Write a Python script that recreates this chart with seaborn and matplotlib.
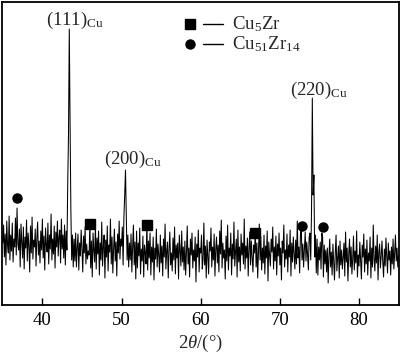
import numpy as np
import pandas as pd
import matplotlib
matplotlib.use("Agg")
import matplotlib.pyplot as plt
import seaborn as sns

# ---- data (intensity in arbitrary units) ----
two_theta_start = 35.0
two_theta_step = 0.1
intensity = [
    62, 80, 48, 71, 40, 84, 60, 52, 89, 45,
    70, 54, 82, 43, 66, 58, 87, 50, 97, 61,
    55, 76, 38, 81, 63, 47, 78, 36, 68, 57,
    85, 44, 72, 59, 33, 79, 52, 88, 46, 65,
    58, 76, 39, 67, 83, 50, 64, 42, 74, 55,
    86, 47, 69, 35, 77, 60, 53, 82, 41, 70,
    56, 91, 45, 66, 51, 79, 37, 73, 58, 84,
    49, 68, 75, 42, 86, 56, 70, 47, 80, 40,
    74, 55, 120, 170, 276, 180, 95, 45, 70, 38,
    66, 44, 72, 38, 58, 71, 35, 62, 49, 75,
    57, 33, 69, 52, 78, 41, 61, 46, 54, 50,
    82, 37, 64, 28, 72, 55, 43, 80, 36, 67,
    51, 74, 30, 62, 45, 83, 39, 58, 70, 27,
    65, 48, 79, 34, 60, 53, 86, 41, 68, 32,
    57, 76, 44, 63, 29, 71, 52, 84, 46, 66,
    59, 78, 40, 88, 110, 135, 90, 45, 70, 38,
    62, 45, 71, 33, 58, 80, 40, 63, 26, 74,
    37, 62, 49, 77, 31, 56, 44, 69, 28, 60,
    52, 41, 83, 35, 64, 47, 72, 30, 58, 43,
    68, 25, 57, 46, 76, 38, 61, 50, 33, 70,
    42, 59, 29, 66, 48, 81, 36, 54, 63, 27,
    56, 73, 40, 52, 34, 67, 45, 78, 31, 60,
    47, 62, 26, 70, 55, 39, 74, 43, 58, 35,
    64, 30, 53, 79, 41, 57, 28, 66, 50, 72,
    37, 55, 44, 68, 23, 61, 48, 75, 33, 57,
    52, 70, 36, 46, 82, 40, 59, 27, 65, 49,
    31, 63, 54, 77, 38, 58, 45, 71, 29, 56,
    68, 42, 60, 33, 74, 51, 85, 37, 62, 47,
    55, 26, 69, 44, 80, 35, 57, 49, 72, 30,
    61, 46, 83, 39, 53, 66, 28, 75, 43, 58,
    34, 71, 50, 62, 41, 86, 36, 59, 47, 67,
    29, 56, 73, 40, 64, 48, 33, 60, 52, 76,
    38, 62, 27, 54, 81, 45, 68, 35, 57, 42,
    70, 31, 59, 47, 74, 24, 63, 50, 39, 66,
    53, 78, 36, 58, 44, 69, 30, 61, 49, 72,
    40, 57, 25, 64, 52, 80, 38, 55, 46, 71,
    33, 60, 48, 75, 29, 62, 43, 68, 51, 36,
    65, 41, 84, 47, 58, 32, 70, 79, 45, 61,
    38, 56, 73, 44, 63, 50, 35, 68, 72, 45,
    95, 207, 110, 130, 48, 70, 32, 66, 30, 58,
    45, 63, 36, 72, 68, 28, 60, 41, 55, 33,
    57, 22, 49, 66, 38, 53, 30, 61, 44, 25,
    52, 70, 34, 47, 59, 27, 64, 40, 55, 36,
    48, 62, 29, 73, 43, 57, 24, 51, 66, 38,
    58, 31, 46, 69, 35, 54, 42, 74, 28, 50,
    39, 63, 45, 26, 60, 48, 71, 33, 56, 41,
    65, 30, 52, 44, 68, 27, 57, 38, 80, 46,
    34, 59, 42, 70, 25, 53, 61, 37, 49, 64,
    43, 28, 56, 39, 67, 48, 32, 62, 45, 54,
    30, 58, 41, 66, 36, 52, 70, 44, 57, 38,
    50,
]

cu5zr_pos = [45.99, 53.2, 66.87]
cu5zr_int = [81, 80, 72]
cu51zr14_pos = [36.77, 72.74, 75.4]
cu51zr14_int = [107, 79, 78]

peak_labels = [r"(111)$_{\mathrm{Cu}}$", r"(200)$_{\mathrm{Cu}}$", r"(220)$_{\mathrm{Cu}}$"]
peak_label_pos = [44.1, 51.42, 74.94]
peak_label_int = [285, 146, 215]

legend_labels = [r"Cu$_{5}$Zr", r"Cu$_{51}$Zr$_{14}$"]
x_ticks = [40, 50, 60, 70, 80]

# ---- style ----
sns.set_theme(style="white")
plt.rcParams["font.family"] = ["Liberation Serif", "DejaVu Serif"]
plt.rcParams["mathtext.fontset"] = "custom"
plt.rcParams["mathtext.rm"] = "Liberation Serif"
plt.rcParams["mathtext.it"] = "Liberation Serif:italic"
plt.rcParams["mathtext.bf"] = "Liberation Serif:bold"
plt.rcParams["path.simplify"] = False

FS = 13.5

two_theta = two_theta_start + two_theta_step * np.arange(len(intensity))
df = pd.DataFrame({"two_theta": two_theta, "intensity": intensity})

fig = plt.figure(figsize=(4.0, 3.53), dpi=100)
ax = fig.add_axes([0.005, 0.136, 0.9925, 0.858])

sns.lineplot(data=df, x="two_theta", y="intensity", ax=ax, color="black",
             lw=0.75, estimator=None, sort=False)

ax.plot(cu5zr_pos, cu5zr_int, linestyle="none", marker="s", color="black", ms=6.5)
ax.plot(cu51zr14_pos, cu51zr14_int, linestyle="none", marker="o", color="black", ms=6.5)

for lab, px, py in zip(peak_labels, peak_label_pos, peak_label_int):
    ax.text(px, py, lab, ha="center", va="center", fontsize=FS)

# legend (drawn manually: marker, dash, text)
leg_x_marker = 58.62
leg_y = [281, 261]
ax.plot([leg_x_marker], [leg_y[0]], marker="s", color="black", ms=6.5, linestyle="none")
ax.plot([leg_x_marker], [leg_y[1]], marker="o", color="black", ms=6.5, linestyle="none")
for yy, lab in zip(leg_y, legend_labels):
    ax.plot([60.3, 62.8], [yy, yy], color="black", lw=1.0)
    ax.text(64.0, yy, lab, ha="left", va="center", fontsize=FS)

ax.set_xlim(34.9, 85.05)
ax.set_ylim(0, 303)
ax.set_xticks(x_ticks)
ax.set_xticklabels([str(t) for t in x_ticks], fontsize=FS)
ax.set_yticks([])
ax.set_ylabel("")
ax.set_xlabel(r"2$\it{\theta}$/(°)", fontsize=FS, labelpad=3)
ax.tick_params(axis="x", direction="in", length=5, width=1.0, pad=5,
               bottom=True, top=False, colors="black")
for s in ax.spines.values():
    s.set_visible(True)
    s.set_color("black")
    s.set_linewidth(1.3)

fig.savefig("out.png", dpi=100)
